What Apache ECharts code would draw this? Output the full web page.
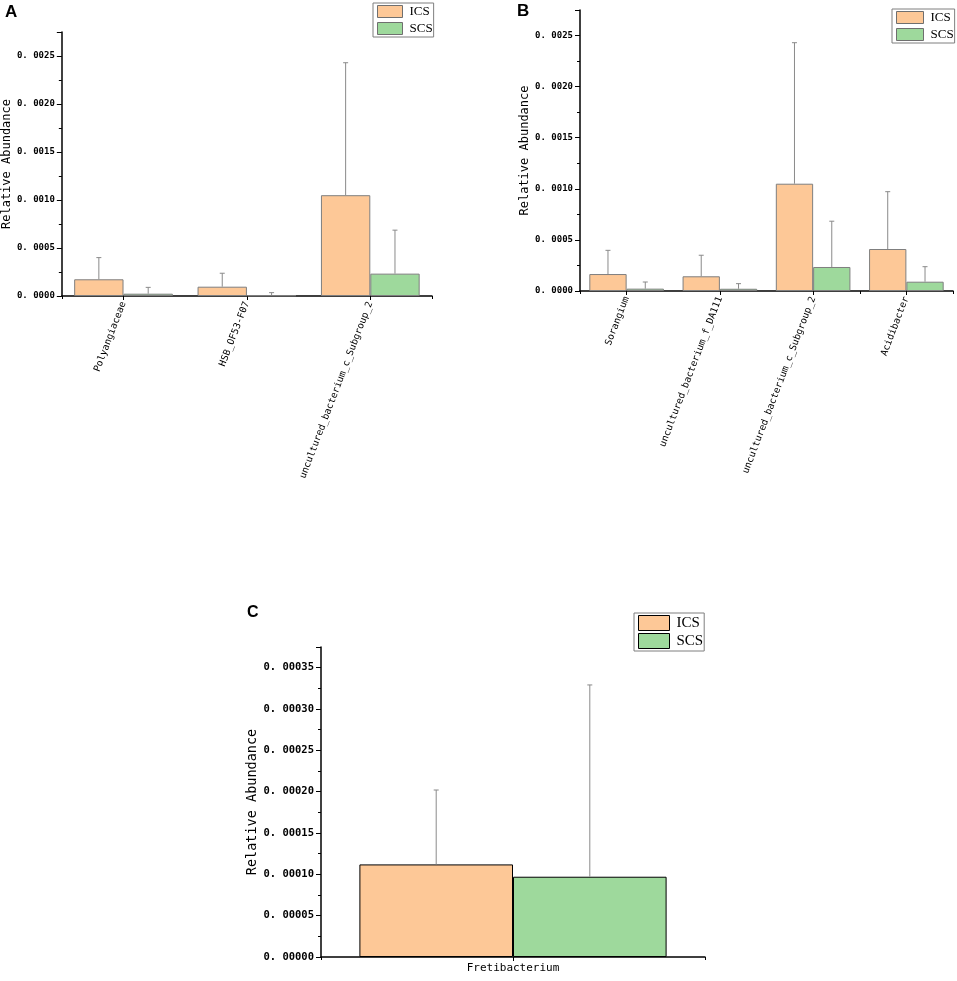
<!DOCTYPE html>
<html>
<head>
<meta charset="utf-8">
<script src="https://cdn.jsdelivr.net/npm/echarts@6.0.0/dist/echarts.min.js"></script>
<style>
html,body{margin:0;padding:0;background:#fff;}
#chart{width:957px;height:981px;}
</style>
</head>
<body>
<div id="chart"></div>
<script>
// ---- Data ----
const seriesNames = ['ICS', 'SCS'];

const catsA = ['Polyangiaceae', 'HSB_OF53-F07', 'uncultured_bacterium_c_Subgroup_2'];
const icsA = [0.000174, 0.000097, 0.00105];
const icsErrA = [0.000226, 0.00014, 0.00138];
const scsA = [0.000024, 0.000007, 0.000233];
const scsErrA = [0.000066, 0.000028, 0.000453];

const catsB = ['Sorangium', 'uncultured_bacterium_f_DA111', 'uncultured_bacterium_c_Subgroup_2', 'Acidibacter'];
const icsB = [0.000166, 0.000144, 0.00105, 0.000411];
const icsErrB = [0.000232, 0.000206, 0.00138, 0.000561];
const scsB = [0.000023, 0.000022, 0.000235, 0.000091];
const scsErrB = [0.000065, 0.00005, 0.000448, 0.000147];

const catsC = ['Fretibacterium'];
const icsC = [0.000112];
const icsErrC = [0.00009];
const scsC = [0.0000971];
const scsErrC = [0.000232];

const yTicksAB = { min: 0, max: 0.00275, interval: 0.0005, decimals: 4 };
const yTicksC = { min: 0, max: 0.000375, interval: 0.00005, decimals: 5 };

// ---- Styles ----
const ICS_COLOR = '#FDC897';
const SCS_COLOR = '#9ED99C';
const ERR_COLOR = '#8a8a8a';
const MONO = 'DejaVu Sans Mono';

const chart = echarts.init(document.getElementById('chart'), null, { renderer: 'canvas' });

function yAxisCfg(gridIndex, t, labelSize, nameSize, nameGap) {
  return {
    type: 'value', gridIndex, min: t.min, max: t.max, interval: t.interval,
    name: 'Relative Abundance', nameLocation: 'middle', nameGap: nameGap,
    nameTextStyle: { fontFamily: MONO, fontSize: nameSize, color: '#000' },
    axisLine: { show: true, lineStyle: { color: '#000', width: 1.5 } },
    axisTick: { show: true, inside: false, length: 5, lineStyle: { color: '#000', width: 1 } },
    minorTick: { show: true, splitNumber: 2, length: 3, lineStyle: { color: '#000', width: 1 } },
    splitLine: { show: false },
    axisLabel: {
      fontFamily: MONO, fontSize: labelSize, fontWeight: 'bold', color: '#000', margin: 7, showMaxLabel: false,
      formatter: v => {
        const r = Math.round(v / t.interval * 1e6) / 1e6;
        if (Math.abs(r - Math.round(r)) > 1e-6) return '';
        return v.toFixed(t.decimals).replace('.', '. ');
      }
    }
  };
}

function xAxisMain(gridIndex, cats, rotate, fontSize) {
  return {
    type: 'category', gridIndex, data: cats, position: 'bottom',
    axisLine: { show: true, lineStyle: { color: '#000', width: 1.5 } },
    axisTick: { show: true, alignWithLabel: true, length: 4, lineStyle: { color: '#000' } },
    axisLabel: { interval: 0, rotate: rotate, fontFamily: MONO, fontSize: fontSize, color: '#000', margin: 6 },
    splitLine: { show: false }
  };
}
function xAxisBound(gridIndex, cats) {
  return {
    type: 'category', gridIndex, data: cats, position: 'bottom', offset: 0,
    axisLine: { show: false },
    axisTick: { show: true, alignWithLabel: false, length: 3, lineStyle: { color: '#000' } },
    axisLabel: { show: false },
    splitLine: { show: false }
  };
}

function barSeries(name, xIdx, yIdx, data, color, border) {
  return {
    type: 'bar', name, xAxisIndex: xIdx, yAxisIndex: yIdx, data,
    barGap: '0%', barCategoryGap: '20%',
    itemStyle: { color: color, borderColor: border, borderWidth: 1 },
    emphasis: { disabled: true }, animation: false, z: 2
  };
}

function errSeries(xIdx, yIdx, means, errs, side) {
  return {
    type: 'custom', xAxisIndex: xIdx, yAxisIndex: yIdx, silent: true, animation: false, z: 5,
    data: means.map((m, i) => [i, m, m + errs[i]]),
    encode: { x: 0, y: [1, 2] },
    renderItem: (params, api) => {
      const i = api.value(0);
      const lo = api.coord([i, api.value(1)]);
      const hi = api.coord([i, api.value(2)]);
      const catW = api.size([1, 0])[0];
      const x = lo[0] + side * catW * 0.2;
      return {
        type: 'group',
        children: [
          { type: 'line', shape: { x1: x, y1: lo[1], x2: x, y2: hi[1] }, style: { stroke: ERR_COLOR, lineWidth: 1 } },
          { type: 'line', shape: { x1: x - 2.5, y1: hi[1], x2: x + 2.5, y2: hi[1] }, style: { stroke: ERR_COLOR, lineWidth: 1 } }
        ]
      };
    }
  };
}

function legendCfg(left, top, iw, ih, gap, fontSize, border) {
  return {
    orient: 'vertical', left, top, itemWidth: iw, itemHeight: ih, itemGap: gap,
    padding: [2, 1, 2, 4],
    borderColor: '#7f7f7f', borderWidth: 1, backgroundColor: '#fff',
    selectedMode: false,
    data: [
      { name: 'ICS', icon: 'rect', itemStyle: { color: ICS_COLOR, borderColor: border, borderWidth: 1 } },
      { name: 'SCS', icon: 'rect', itemStyle: { color: SCS_COLOR, borderColor: border, borderWidth: 1 } }
    ],
    textStyle: { fontFamily: 'Liberation Serif', fontSize: fontSize, color: '#000', lineHeight: ih, padding: [0, 0, 0, 2] }
  };
}

const option = {
  animation: false,
  backgroundColor: '#fff',
  grid: [
    { left: 60, top: 32, width: 372, height: 264, containLabel: false },
    { left: 580, top: 10, width: 373, height: 281, containLabel: false },
    { left: 321, top: 647, width: 384, height: 310, containLabel: false }
  ],
  xAxis: [
    xAxisMain(0, catsA, 69, 9.5),
    xAxisBound(0, catsA),
    xAxisMain(1, catsB, 69, 9.5),
    xAxisBound(1, catsB),
    xAxisMain(2, catsC, 0, 11),
    xAxisBound(2, catsC)
  ],
  yAxis: [
    yAxisCfg(0, yTicksAB, 9, 12, 47),
    yAxisCfg(1, yTicksAB, 9, 12, 46),
    yAxisCfg(2, yTicksC, 10.5, 13.5, 60)
  ],
  legend: [
    legendCfg(373, 3, 25, 12, 4, 13, '#6f6f6f'),
    legendCfg(892, 9, 27, 12, 4, 13, '#6f6f6f'),
    legendCfg(634, 613, 31, 15, 2, 15, '#000')
  ],
  graphic: [
    { type: 'text', left: 5, top: 4, style: { text: 'A', font: 'bold 17px "Liberation Sans"', fill: '#000' } },
    { type: 'text', left: 517, top: 3, style: { text: 'B', font: 'bold 17px "Liberation Sans"', fill: '#000' } },
    { type: 'text', left: 247, top: 605, style: { text: 'C', font: 'bold 16px "Liberation Sans"', fill: '#000' } }
  ],
  series: [
    barSeries('ICS', 0, 0, icsA, ICS_COLOR, '#7f7f7f'),
    barSeries('SCS', 0, 0, scsA, SCS_COLOR, '#7f7f7f'),
    errSeries(0, 0, icsA, icsErrA, -1),
    errSeries(0, 0, scsA, scsErrA, 1),
    barSeries('ICS', 2, 1, icsB, ICS_COLOR, '#7f7f7f'),
    barSeries('SCS', 2, 1, scsB, SCS_COLOR, '#7f7f7f'),
    errSeries(2, 1, icsB, icsErrB, -1),
    errSeries(2, 1, scsB, scsErrB, 1),
    barSeries('ICS', 4, 2, icsC, ICS_COLOR, '#000'),
    barSeries('SCS', 4, 2, scsC, SCS_COLOR, '#000'),
    errSeries(4, 2, icsC, icsErrC, -1),
    errSeries(4, 2, scsC, scsErrC, 1)
  ]
};
chart.setOption(option);
</script>
</body>
</html>
